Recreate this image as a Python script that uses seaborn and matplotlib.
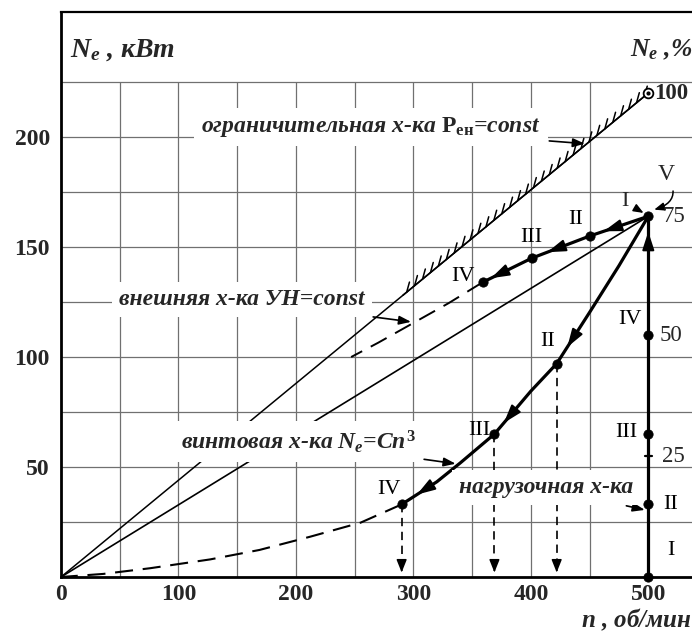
import numpy as np
import matplotlib
matplotlib.use("Agg")
import matplotlib.pyplot as plt
import matplotlib.patheffects as pe
import seaborn as sns

# ---------------- data ----------------
n_ticks = [0, 100, 200, 300, 400, 500]
N_ticks = [50, 100, 150, 200]
grid_n = [50, 100, 150, 200, 250, 300, 350, 400, 450]
grid_N = [25, 50, 75, 100, 125, 150, 175, 200, 225]
pct_labels = ["100", "75", "50", "25"]
pct_values = [220, 164, 110, 55]

# limiting characteristic  P_ен = const
lim_n = [0, 500]
lim_N = [0, 220]
hatch_start_n = 291

# straight line from origin to point I (75 %)
ray_n = [0, 500]
ray_N = [0, 164]

# external characteristic  УН = const
ext_n = [500, 450, 401, 359]
ext_N = [164, 155, 145, 134]
ext_dash_n = [359, 330, 300, 270, 247]
ext_dash_N = [134, 124.5, 115.5, 106.5, 100]
ext_arrow_n = [462, 414, 366]

# propeller characteristic  Ne = C n^3
prop_n = [500, 475, 450, 422, 400, 369, 340, 320, 290]
prop_N = [164, 141.5, 120.3, 97, 84.5, 65, 51.9, 43.3, 33]
prop_dash_n = [290, 255, 212, 169, 127, 76, 36, 0]
prop_dash_N = [33, 24.7, 18.3, 12.3, 8, 4, 1.4, 0]
prop_arrow_n = [431, 377, 303]

# operating points
ext_pt_n = [450, 401, 359]
ext_pt_N = [155, 145, 134]
ext_pt_lab = ["II", "III", "IV"]
prop_pt_n = [422, 369, 290]
prop_pt_N = [97, 65, 33]
prop_pt_lab = ["II", "III", "IV"]
load_n = 500
load_pt_N = [0, 33, 65, 110, 164]
load_pt_lab = ["I", "II", "III", "IV"]

# ---------------- style ----------------
sns.set_style("white")
FONT = "Liberation Serif"
plt.rcParams["font.family"] = [FONT, "DejaVu Serif"]
plt.rcParams["mathtext.fontset"] = "custom"
plt.rcParams["mathtext.rm"] = "Liberation Serif:bold"
plt.rcParams["mathtext.it"] = "Liberation Serif:italic:bold"
plt.rcParams["mathtext.bf"] = "Liberation Serif:bold"
plt.rcParams["lines.scale_dashes"] = False

fig = plt.figure(figsize=(6.92, 6.33), dpi=100)
ax = fig.add_axes([61 / 692, (633 - 577) / 633, (692 - 61) / 692, (577 - 11.7) / 633])
XMAX, YMAX = 537.2, 257
ax.set_xlim(0, XMAX)
ax.set_ylim(0, YMAX)

# grid (limited to 225)
gcol = "#707070"
ax.vlines(grid_n, 0, grid_N[-1], color=gcol, lw=0.9, zorder=1)
ax.hlines(grid_N, 0, XMAX, color=gcol, lw=0.9, zorder=1)

# spines
ax.spines["right"].set_visible(False)
ax.spines["left"].set_linewidth(2.0)
ax.spines["bottom"].set_linewidth(2.0)
ax.spines["top"].set_linewidth(1.6)
for s in ["left", "bottom", "top"]:
    ax.spines[s].set_color("black")

ax.set_xticks(n_ticks)
ax.set_yticks(N_ticks)
ax.set_xticklabels([str(v) for v in n_ticks], fontsize=17, fontweight="bold")
ax.set_yticklabels([str(v) for v in N_ticks], fontsize=17, fontweight="bold")
ax.tick_params(axis="both", length=0)
ax.tick_params(axis="y", pad=8)
ax.tick_params(axis="x", pad=5)

K = "black"
dash_long = (0, (13, 7))
dash_short = (0, (6, 4))

# limiting characteristic + hatching
sns.lineplot(x=lim_n, y=lim_N, ax=ax, color=K, lw=1.1, sort=False, estimator=None, zorder=3)
h_n = [hatch_start_n, lim_n[-1]]
h_N = [float(np.interp(hatch_start_n, lim_n, lim_N)), lim_N[-1]]
sns.lineplot(x=h_n, y=h_N, ax=ax, color=K, lw=1.1, sort=False, estimator=None, zorder=3,
             path_effects=[pe.withTickedStroke(angle=35, spacing=7.2, length=1.05, linewidth=1.1)])
ax.plot([lim_n[-1]], [lim_N[-1]], marker="o", ms=7, mfc="white", mec=K, mew=1.3, zorder=6)
ax.plot([lim_n[-1]], [lim_N[-1]], marker="o", ms=2, color=K, zorder=7)

# ray from origin to I
sns.lineplot(x=ray_n, y=ray_N, ax=ax, color=K, lw=1.2, sort=False, estimator=None, zorder=3)

# external characteristic
sns.lineplot(x=ext_n, y=ext_N, ax=ax, color=K, lw=2.3, sort=False, estimator=None, zorder=4)
sns.lineplot(x=ext_dash_n, y=ext_dash_N, ax=ax, color=K, lw=1.4, sort=False, estimator=None,
             zorder=4, linestyle=dash_long)

# propeller characteristic
sns.lineplot(x=prop_n, y=prop_N, ax=ax, color=K, lw=2.3, sort=False, estimator=None, zorder=4)
sns.lineplot(x=prop_dash_n, y=prop_dash_N, ax=ax, color=K, lw=1.5, sort=False, estimator=None,
             zorder=4, linestyle=dash_long)

# load characteristic (vertical line)
sns.lineplot(x=[load_n, load_n], y=[load_pt_N[0], load_pt_N[-1]], ax=ax, color=K, lw=2.3,
             sort=False, estimator=None, zorder=4)

# drop lines
for xv, yv in zip(prop_pt_n, prop_pt_N):
    ax.plot([xv, xv], [yv, 3], color=K, lw=1.2, linestyle=dash_short, zorder=3)
    ax.annotate("", xy=(xv, 0.8), xytext=(xv, 5),
                arrowprops=dict(arrowstyle="-|>,head_length=0.55,head_width=0.22",
                                color=K, lw=1.1, mutation_scale=14), zorder=5)

arr_kw = dict(arrowstyle="-|>,head_length=0.8,head_width=0.26", color=K, lw=1.4,
              mutation_scale=14, shrinkA=0, shrinkB=0)


def curve_arrow(xs, ys, x_tip, back):
    order = np.argsort(xs)
    xs_s = np.asarray(xs, float)[order]
    ys_s = np.asarray(ys, float)[order]
    tip = (x_tip, float(np.interp(x_tip, xs_s, ys_s)))
    tail = (x_tip + back, float(np.interp(x_tip + back, xs_s, ys_s)))
    ax.annotate("", xy=tip, xytext=tail, arrowprops=arr_kw, zorder=6)


for xa in ext_arrow_n:
    curve_arrow(ext_n, ext_N, xa, 9)
for xa in prop_arrow_n:
    curve_arrow(prop_n, prop_N, xa, 6)
# arrow up on load line
ax.annotate("", xy=(load_n, 157), xytext=(load_n, 145), arrowprops=arr_kw, zorder=6)
# 25 % tick mark
ax.plot([load_n - 3, load_n + 3], [55, 55], color=K, lw=1.6, zorder=5)

# points
sns.scatterplot(x=ext_pt_n + prop_pt_n, y=ext_pt_N + prop_pt_N, ax=ax, color=K, s=45,
                edgecolor=K, zorder=7)
sns.scatterplot(x=[load_n] * len(load_pt_N), y=load_pt_N, ax=ax, color=K, s=45,
                edgecolor=K, zorder=7, clip_on=False)

# roman numeral labels
rom = dict(fontsize=16, color=K, ha="center", va="center", zorder=8)
ext_off = [(-12, 7.5), (-1, 9.5), (-17, 2.5)]
for xv, yv, lab, (dx, dy) in zip(ext_pt_n, ext_pt_N, ext_pt_lab, ext_off):
    ax.text(xv + dx, yv + dy, lab, **rom)
prop_off = [(-8, 10), (-13, 1.5), (-11, 7)]
for xv, yv, lab, (dx, dy) in zip(prop_pt_n, prop_pt_N, prop_pt_lab, prop_off):
    ax.text(xv + dx, yv + dy, lab, **rom)
load_off = [(19, 12), (19, 0), (-19, 0.5), (-16, 7)]
for yv, lab, (dx, dy) in zip(load_pt_N, load_pt_lab, load_off):
    ax.text(load_n + dx, yv + dy, lab, **rom)

ax.annotate("I", xy=(496, 165.5), xytext=(480, 170.5), fontsize=16, ha="center", va="center",
            arrowprops=dict(arrowstyle="-|>,head_length=0.5,head_width=0.2", color=K, lw=1.1,
                            mutation_scale=12, shrinkA=4, shrinkB=0), zorder=8)
ax.annotate("V", xy=(505, 167), xytext=(515, 183), fontsize=17, ha="center", va="center",
            arrowprops=dict(arrowstyle="-|>,head_length=0.5,head_width=0.2", color=K, lw=1.1,
                            mutation_scale=12, shrinkA=2, shrinkB=0,
                            connectionstyle="arc3,rad=-0.7"), zorder=8)

# percent scale labels
pct_dx = [5, 12, 10, 12]
for lab, yv, dx in zip(pct_labels, pct_values, pct_dx):
    ax.text(load_n + dx, yv, lab, fontsize=16.5, ha="left", va="center",
            fontweight="bold" if lab == "100" else "normal", zorder=8, clip_on=False)

# descriptive labels
txt = dict(fontsize=17, fontweight="bold", fontstyle="italic", ha="center", va="center",
           bbox=dict(boxstyle="square,pad=0.3", facecolor="white", edgecolor="none"), zorder=9)
ann_arrow = dict(arrowstyle="-|>,head_length=0.6,head_width=0.22", color=K, lw=1.2,
                 mutation_scale=12, shrinkA=1, shrinkB=0)
ax.annotate(r"ограничительная х-ка $\mathrm{P_{ен}}$=const", xy=(446, 197), xytext=(264, 204.5),
            arrowprops=ann_arrow, **txt)
ax.annotate(r"внешняя х-ка УН=const", xy=(298, 116), xytext=(154, 126),
            arrowprops=ann_arrow, **txt)
ax.annotate(r"винтовая х-ка $N_e$=C$n^3$", xy=(336, 51.5), xytext=(202, 61.5),
            arrowprops=ann_arrow, **txt)
ax.annotate(r"нагрузочная х-ка", xy=(497, 30.5), xytext=(413, 40.5),
            arrowprops=ann_arrow, **txt)

# axis titles
ttl = dict(fontweight="bold", fontstyle="italic", va="center", zorder=9)
ax.text(8, 239.5, r"$N_e$ , кВт", ha="left", fontsize=20, **ttl)
ax.text(XMAX, 239.5, r"$N_e$ ,%", ha="right", clip_on=False, fontsize=18.5, **ttl)
ax.text(XMAX, -19.5, r"$n$ , об/мин", ha="right", clip_on=False, fontsize=18, **ttl)

fig.savefig("out.png", dpi=100)
